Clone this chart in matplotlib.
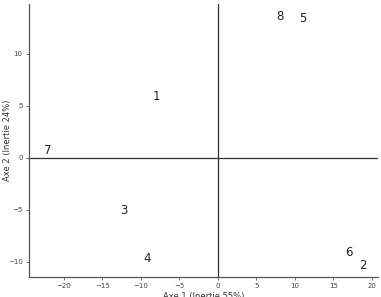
import matplotlib
matplotlib.use("Agg")
import matplotlib.pyplot as plt

labels = ["1", "2", "3", "4", "5", "6", "7", "8"]
axe1 = [-7.9, 18.8, -12.2, -9.2, 11.0, 17.0, -22.1, 8.1]
axe2 = [5.9, -10.4, -5.1, -9.7, 13.4, -9.1, 0.7, 13.6]
xticks = [-20, -15, -10, -5, 0, 5, 10, 15, 20]
yticks = [-10, -5, 0, 5, 10]

fig = plt.figure(figsize=(3.81, 2.97), dpi=100)
ax = fig.add_axes([0.076, 0.067, 0.916, 0.92])
for lab, x, y in zip(labels, axe1, axe2):
    ax.text(x, y, lab, ha="center", va="center", fontsize=8.5, color="#222222")
ax.axhline(0, color="#333333", lw=0.9)
ax.axvline(0, color="#333333", lw=0.9)
ax.set_xlim(-24.5, 20.8)
ax.set_ylim(-11.5, 14.8)
ax.set_xticks(xticks)
ax.set_yticks(yticks)
ax.set_xticklabels([str(t).replace("-", "\u2212") for t in xticks])
ax.set_yticklabels([str(t).replace("-", "\u2212") for t in yticks])
ax.tick_params(labelsize=5, length=2.5, width=0.6, color="#555555", labelcolor="#444444", pad=2)
for s in ["top", "right"]:
    ax.spines[s].set_visible(False)
for s in ["left", "bottom"]:
    ax.spines[s].set_color("#555555")
    ax.spines[s].set_linewidth(0.9)
ax.set_xlabel("Axe 1 (Inertie 55%)", fontsize=6, color="#333333", labelpad=2)
ax.set_ylabel("Axe 2 (Inertie 24%)", fontsize=6, color="#333333")
ax.yaxis.set_label_coords(-0.05, 0.5)
fig.savefig("out.png", dpi=100)
